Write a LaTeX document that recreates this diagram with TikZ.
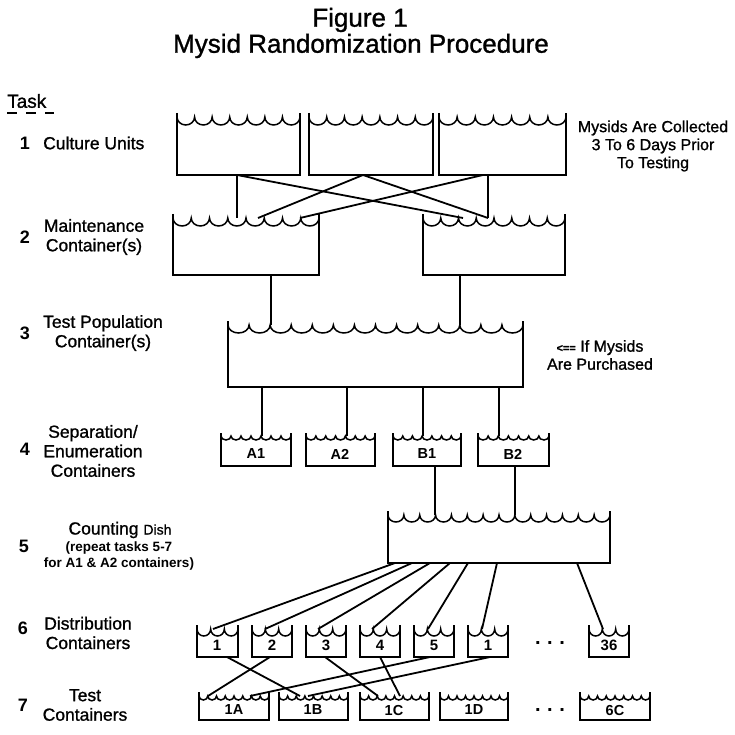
\documentclass[tikz,border=0pt]{standalone}
\usepackage{fontspec}
\setmainfont{Liberation Sans}
\newfontfamily\medfont[FakeBold=1.1]{Liberation Sans}
\begin{document}
\begin{tikzpicture}[x=1pt,y=1pt,
  wall/.style={line width=1.9pt, line join=miter},
  wave/.style={line width=1.5pt},
  conn/.style={line width=1.8pt},
  lab/.style={font=\medfont\fontsize{17.5}{19.5}\selectfont, align=center, inner sep=0pt},
  num/.style={font=\bfseries\fontsize{18}{20}\selectfont, inner sep=0pt},
  note/.style={font=\medfont\fontsize{16}{18}\selectfont, align=center, inner sep=0pt},
  blab/.style={font=\bfseries\fontsize{14.5}{16}\selectfont, inner sep=0pt},
  clab/.style={font=\bfseries\fontsize{13.5}{15.5}\selectfont, inner sep=0pt, align=center},
  dlab/.style={font=\bfseries\fontsize{15}{17}\selectfont, inner sep=0pt},
  dots/.style={font=\bfseries\fontsize{20}{22}\selectfont, inner sep=0pt},
  ttl/.style={font=\medfont\fontsize{26}{28}\selectfont, inner sep=0pt}]
\newcommand\ctr[8]{% name, xl, xr, ytop, ywater, ybot, n, depth
  \pgfmathsetmacro\cw{#3-#2}\pgfmathsetmacro\ch{#6-#5}
  \node[inner sep=0pt, outer sep=0pt, minimum width=\cw pt, minimum height=\ch pt, anchor=north west] (#1) at (#2,-#5) {};
  \draw[wall] (#2,-#4) -- (#2,-#6) -- (#3,-#6) -- (#3,-#4);
  \pgfmathsetmacro\ww{(#3-#2)/#7/2}
  \draw[wave] (#2,-#5) \foreach \i in {1,...,#7} { arc[start angle=180, end angle=360, x radius=\ww pt, y radius=#8pt] };
}
\useasboundingbox (0,0) rectangle (735,-735);
% titles
\node[ttl] (t1) at (360,-20) {Figure 1};
\node[ttl] (t2) at (361,-46) {Mysid Randomization Procedure};
% task header
\node[lab, anchor=west, font=\medfont\fontsize{19}{21}\selectfont] (task) at (7,-101) {Task};
\draw[line width=2.2pt] (7,-113) -- (17,-113) (26,-113) -- (36,-113) (45,-113) -- (54,-113);
% row labels
\node[num] (n1) at (25,-143) {1};
\node[lab, anchor=west] (l1) at (43,-143) {Culture Units};
\node[num] (n2) at (25,-237) {2};
\node[lab] (l2) at (94,-237) {Maintenance\\Container(s)};
\node[num] (n3) at (25,-333) {3};
\node[lab] (l3) at (103,-333) {Test Population\\Container(s)};
\node[num] (n4) at (25,-449) {4};
\node[lab] (l4) at (93,-451) {Separation/\\Enumeration\\Containers};
\node[num] (n5) at (24,-546) {5};
\node[lab] (l5) at (120,-530) {Counting {\fontsize{14}{16}\selectfont Dish}};
\node[clab] (l5b) at (119,-556) {(repeat tasks 5-7\\for A1 \& A2 containers)};
\node[num] (n6) at (23,-628) {6};
\node[lab] (l6) at (88,-633) {Distribution\\Containers};
\node[num] (n7) at (23,-705) {7};
\node[lab] (l7) at (85,-705) {Test\\Containers};
% notes
\node[note] (r1) at (653,-146) {Mysids Are Collected\\3 To 6 Days Prior\\To Testing};
\node[note] (r3) at (600,-355) {{\bfseries\fontsize{11}{13}\selectfont <==} If Mysids\\Are Purchased};
% containers
\ctr{c1}{177}{300}{113}{117}{175}{7}{8}
\ctr{c2}{309}{433}{113}{117}{175}{7}{8}
\ctr{c3}{439}{566}{113}{117}{175}{7}{8}
\ctr{m1}{173}{319}{214}{218}{275}{8}{8}
\ctr{m2}{423}{565}{214}{218}{275}{8}{8}
\ctr{tp}{228}{523}{321}{325}{387}{14}{8}
\ctr{a1}{221}{291}{433}{436}{466}{7}{4}
\ctr{a2}{306}{375}{433}{436}{466}{7}{4}
\ctr{b1}{393}{461}{433}{436}{466}{7}{4}
\ctr{b2}{478}{549}{433}{436}{466}{7}{4}
\ctr{cd}{388}{610}{511}{515}{563}{14}{7}
\ctr{d1}{197}{238}{625}{629}{657}{3}{7}
\ctr{d2}{252}{292}{625}{629}{657}{3}{7}
\ctr{d3}{306}{346}{625}{629}{657}{3}{7}
\ctr{d4}{360}{400}{625}{629}{657}{3}{7}
\ctr{d5}{414}{454}{625}{629}{657}{3}{7}
\ctr{d6}{468}{508}{625}{629}{657}{3}{7}
\ctr{d36}{589}{629}{625}{629}{657}{3}{7}
\ctr{e1}{199}{269}{692}{696}{720}{8}{4}
\ctr{e2}{279}{348}{692}{696}{720}{8}{4}
\ctr{e3}{360}{429}{692}{696}{720}{8}{4}
\ctr{e4}{440}{508}{692}{696}{720}{8}{4}
\ctr{e5}{580}{650}{692}{696}{720}{8}{4}
% container labels
\node[blab] (a1t) at (256,-454) {A1};
\node[blab] (a2t) at (340,-454) {A2};
\node[blab] (b1t) at (427,-454) {B1};
\node[blab] (b2t) at (513,-454) {B2};
\node[dlab] (d1t) at (217,-645) {1};
\node[dlab] (d2t) at (272,-645) {2};
\node[dlab] (d3t) at (326,-645) {3};
\node[dlab] (d4t) at (380,-645) {4};
\node[dlab] (d5t) at (434,-645) {5};
\node[dlab] (d6t) at (488,-645) {1};
\node[dlab] (d36t) at (609,-645) {36};
\node[dots] (dots1) at (550,-643) {.\,\,.\,\,.};
\node[blab] (e1t) at (234,-710) {1A};
\node[blab] (e2t) at (313,-710) {1B};
\node[blab] (e3t) at (394,-710) {1C};
\node[blab] (e4t) at (474,-710) {1D};
\node[blab] (e5t) at (615,-710) {6C};
\node[dots] (dots2) at (550,-710) {.\,\,.\,\,.};
% connectors: culture -> maintenance
\draw[conn] ([xshift=60pt]c1.south west) -- ([xshift=64pt]m1.north west);
\draw[conn] ([xshift=60pt]c1.south west) -- ([xshift=40pt]m2.north west);
\draw[conn] ([xshift=54pt]c2.south west) -- ([xshift=85pt]m1.north west);
\draw[conn] ([xshift=54pt]c2.south west) -- ([xshift=65pt]m2.north west);
\draw[conn] ([xshift=49pt]c3.south west) -- ([xshift=65pt]m2.north west);
\draw[conn] ([xshift=44pt]c3.south west) -- ([xshift=127pt]m1.north west);
% maintenance -> test population
\draw[conn] ([xshift=98pt]m1.south west) -- ([xshift=43pt]tp.north west);
\draw[conn] ([xshift=37pt]m2.south west) -- ([xshift=232pt]tp.north west);
% test population -> separation
\draw[conn] ([xshift=34pt]tp.south west) -- ([xshift=41pt]a1.north west);
\draw[conn] ([xshift=119pt]tp.south west) -- ([xshift=41pt]a2.north west);
\draw[conn] ([xshift=195pt]tp.south west) -- ([xshift=30pt]b1.north west);
\draw[conn] ([xshift=271pt]tp.south west) -- ([xshift=21pt]b2.north west);
% separation -> counting dish
\draw[conn] ([xshift=42pt]b1.south west) -- ([xshift=47pt]cd.north west);
\draw[conn] ([xshift=37pt]b2.south west) -- ([xshift=127pt]cd.north west);
% counting dish -> distribution
\draw[conn] ([xshift=7pt]cd.south west) -- ([xshift=16pt]d1.north west);
\draw[conn] ([xshift=24pt]cd.south west) -- ([xshift=13pt]d2.north west);
\draw[conn] ([xshift=42pt]cd.south west) -- ([xshift=12pt]d3.north west);
\draw[conn] ([xshift=62pt]cd.south west) -- ([xshift=12pt]d4.north west);
\draw[conn] ([xshift=80pt]cd.south west) -- ([xshift=14pt]d5.north west);
\draw[conn] ([xshift=109pt]cd.south west) -- ([xshift=14pt]d6.north west);
\draw[conn] ([xshift=189pt]cd.south west) -- ([xshift=14pt]d36.north west);
% distribution -> test containers
\draw[conn] ([xshift=30pt]d1.south west) -- ([xshift=21pt]e2.north west);
\draw[conn] ([xshift=18pt]d2.south west) -- ([xshift=9pt]e1.north west);
\draw[conn] ([xshift=19pt]d3.south west) -- ([xshift=18pt]e3.north west);
\draw[conn] ([xshift=20pt]d4.south west) -- ([xshift=40pt]e3.north west);
\draw[conn] ([xshift=16pt]d5.south west) -- ([xshift=51pt]e1.north west);
\draw[conn] ([xshift=22pt]d6.south west) -- ([xshift=29pt]e2.north west);
\end{tikzpicture}
\end{document}
